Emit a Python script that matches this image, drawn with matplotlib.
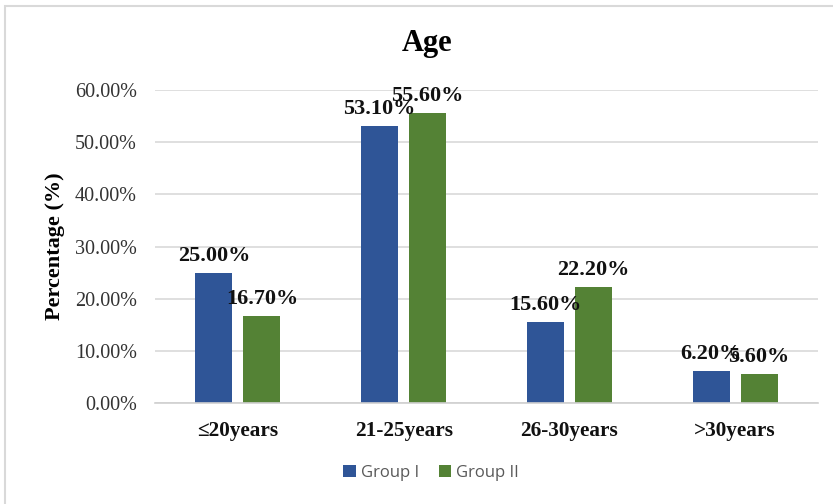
import matplotlib.pyplot as plt
import matplotlib.patches as patches
import numpy as np

# datos del grafico
categorias = ['≤20years', '21-25years', '26-30years', '>30years']
grupo_1 = [25.00, 53.10, 15.60, 6.20]
grupo_2 = [16.70, 55.60, 22.20, 5.60]
ticks_y = [0, 10, 20, 30, 40, 50, 60]

azul = '#2F5597'
verde = '#548235'
serif = ['Liberation Serif', 'DejaVu Serif']

fig = plt.figure(figsize=(8.33, 5.04), dpi=100)
ax = fig.add_axes([155 / 833, 1 - 403 / 504, 663 / 833, 313 / 504])

# marco del grafico
marco = patches.Rectangle((5 / 833, -0.1), 1.2, 1.1 - 6 / 504, transform=fig.transFigure,
                          fill=False, edgecolor='#d9d9d9', lw=1.5)
fig.patches.append(marco)

x = np.arange(len(categorias))
ancho = 0.223
desp = 0.145
b1 = ax.bar(x - desp, grupo_1, ancho, color=azul, label='Group I', zorder=3)
b2 = ax.bar(x + desp, grupo_2, ancho, color=verde, label='Group II', zorder=3)

# etiquetas de valores sobre las barras
for barras, valores in [(b1, grupo_1), (b2, grupo_2)]:
    for b, v in zip(barras, valores):
        ax.annotate(f'{v:.2f}%', (b.get_x() + b.get_width() / 2, v),
                    xytext=(0, 5), textcoords='offset points',
                    ha='center', va='bottom', fontsize=16, fontweight='bold',
                    family=serif, color='#111111', zorder=4)

ax.set_xlim(-0.5, len(categorias) - 0.5)
ax.set_ylim(0, 60)
ax.set_yticks(ticks_y)
ax.set_yticklabels([f'{t:.2f}%' for t in ticks_y], family=serif, fontsize=14.5, color='#333333')
ax.set_xticks(x)
ax.set_xticklabels(categorias, family=serif, fontsize=15.3, fontweight='bold', color='#111111')
ax.tick_params(axis='y', length=0, pad=13)
ax.tick_params(axis='x', length=0, pad=13)
ax.yaxis.grid(True, color='#d9d9d9', lw=1.2, zorder=0)
for s in ['top', 'right', 'left']:
    ax.spines[s].set_visible(False)
ax.spines['bottom'].set_color('#d0d0d0')
ax.spines['bottom'].set_linewidth(1.2)
ax.spines['bottom'].set_zorder(3)

ax.set_ylabel('Percentage (%)', family=serif, fontsize=16, fontweight='bold')
ax.yaxis.set_label_coords(-0.135, 0.5)

fig.text(427 / 833, 1 - 44 / 504, 'Age', ha='center', va='center',
         family=serif, fontsize=22, fontweight='bold')

leg = fig.legend(loc='center', bbox_to_anchor=(431 / 833, 1 - 473 / 504), ncol=2,
                 frameon=False, handlelength=0.75, handleheight=0.75,
                 handletextpad=0.3, columnspacing=1.2,
                 prop={'family': ['Open Sans', 'DejaVu Sans'], 'size': 12})
for t in leg.get_texts():
    t.set_color('#595959')

fig.savefig('out.png', dpi=100)
